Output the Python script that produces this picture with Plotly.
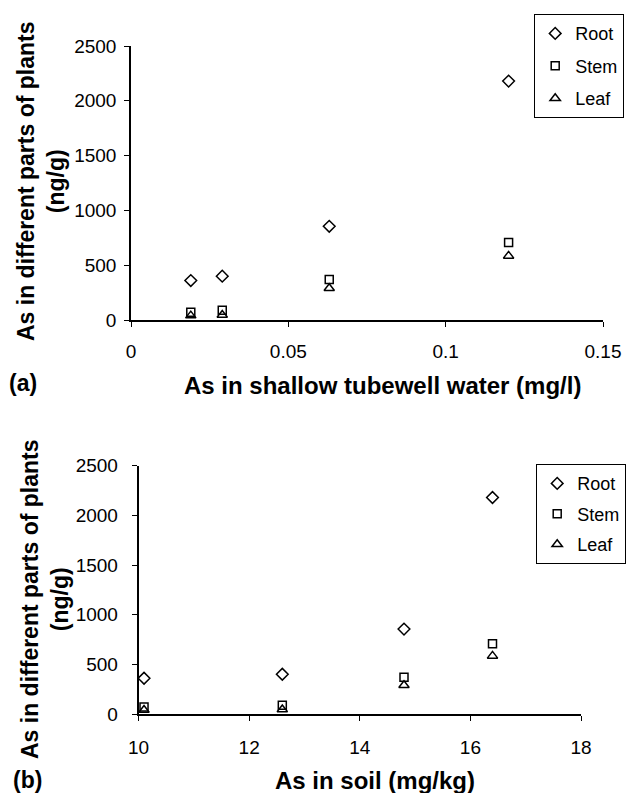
import plotly.graph_objects as go

# Data
water = [0.019, 0.029, 0.063, 0.120]
soil = [10.1, 12.6, 14.8, 16.4]
root = [360, 400, 855, 2180]
stem = [70, 88, 370, 707]
leaf = [40, 45, 290, 585]

series_names = ["Root", "Stem", "Leaf"]
series_vals = [root, stem, leaf]
symbols = ["diamond-open", "square-open", "triangle-up-open"]
sizes = [9, 8, 9]

W, H = 626, 793

def px_x(p):
    return p / W

def px_y(p):
    return 1 - p / H

fig = go.Figure()

for name, vals, sym, sz in zip(series_names, series_vals, symbols, sizes):
    fig.add_trace(go.Scatter(
        x=water, y=vals, mode="markers", name=name,
        marker=dict(symbol=sym, size=sz, color="black", line=dict(color="black", width=1.5)),
        xaxis="x", yaxis="y", legend="legend", legendgroup="a" + name,
    ))
for name, vals, sym, sz in zip(series_names, series_vals, symbols, sizes):
    fig.add_trace(go.Scatter(
        x=soil, y=vals, mode="markers", name=name,
        marker=dict(symbol=sym, size=sz, color="black", line=dict(color="black", width=1.5)),
        xaxis="x2", yaxis="y2", legend="legend2", legendgroup="b" + name,
    ))

tickfont = dict(family="Liberation Sans, Arial, sans-serif", size=19, color="black")
axis_common = dict(
    showline=True, linecolor="black", linewidth=1.5,
    ticks="outside", ticklen=5, tickwidth=1.2, tickcolor="black",
    showgrid=False, zeroline=False, tickfont=tickfont, automargin=False,
)

fig.update_layout(
    width=W, height=H,
    margin=dict(l=0, r=0, t=0, b=0, autoexpand=False),
    paper_bgcolor="white", plot_bgcolor="white",
    font=dict(family="Liberation Sans, Arial, sans-serif", color="black"),
    xaxis=dict(domain=[px_x(131), px_x(603)], range=[0, 0.15], tickvals=[0, 0.05, 0.1, 0.15],
               ticktext=["0", "0.05", "0.1", "0.15"], anchor="y", ticklabelstandoff=8, **axis_common),
    yaxis=dict(domain=[px_y(320), px_y(46)], range=[0, 2500], tickvals=[0, 500, 1000, 1500, 2000, 2500],
               anchor="x", ticklabelstandoff=4, **axis_common),
    xaxis2=dict(domain=[px_x(138.5), px_x(581)], range=[10, 18], tickvals=[10, 12, 14, 16, 18],
                anchor="y2", ticklabelstandoff=10, **axis_common),
    yaxis2=dict(domain=[px_y(714), px_y(465.7)], range=[0, 2500], tickvals=[0, 500, 1000, 1500, 2000, 2500],
                anchor="x2", ticklabelstandoff=10, **axis_common),
    legend=dict(x=px_x(624), y=px_y(14), xanchor="right", yanchor="top",
                bordercolor="black", borderwidth=1.2, bgcolor="white",
                font=dict(size=18, color="black"), itemwidth=30, tracegroupgap=6),
    legend2=dict(x=1.0, y=px_y(464), xanchor="right", yanchor="top",
                 bordercolor="black", borderwidth=1.2, bgcolor="white",
                 font=dict(size=18, color="black"), itemwidth=30, tracegroupgap=4),
    showlegend=True,
)

title_font_x = dict(family="Liberation Sans, Arial, sans-serif", size=24, color="black")
title_font_y = dict(family="Liberation Sans, Arial, sans-serif", size=23, color="black")

annotations = [
    dict(text="<b>As in different parts of plants<br>(ng/g)</b>", x=px_x(41), y=px_y(182),
         textangle=-90, font=title_font_y),
    dict(text="<b>As in shallow tubewell water (mg/l)</b>", x=px_x(382), y=px_y(386), font=title_font_x),
    dict(text="<b>(a)</b>", x=px_x(23), y=px_y(383), font=title_font_y),
    dict(text="<b>As in different parts of plants<br>(ng/g)</b>", x=px_x(45), y=px_y(600),
         textangle=-90, font=title_font_y),
    dict(text="<b>As in soil (mg/kg)</b>", x=px_x(375), y=px_y(780), font=title_font_x),
    dict(text="<b>(b)</b>", x=px_x(27), y=px_y(780), font=title_font_y),
]
for a in annotations:
    a.update(xref="paper", yref="paper", xanchor="center", yanchor="middle", showarrow=False)
fig.update_layout(annotations=annotations)

fig.write_html("out.html", config={"displayModeBar": False},
               post_script="document.body.style.margin='0';document.body.style.padding='0';")
